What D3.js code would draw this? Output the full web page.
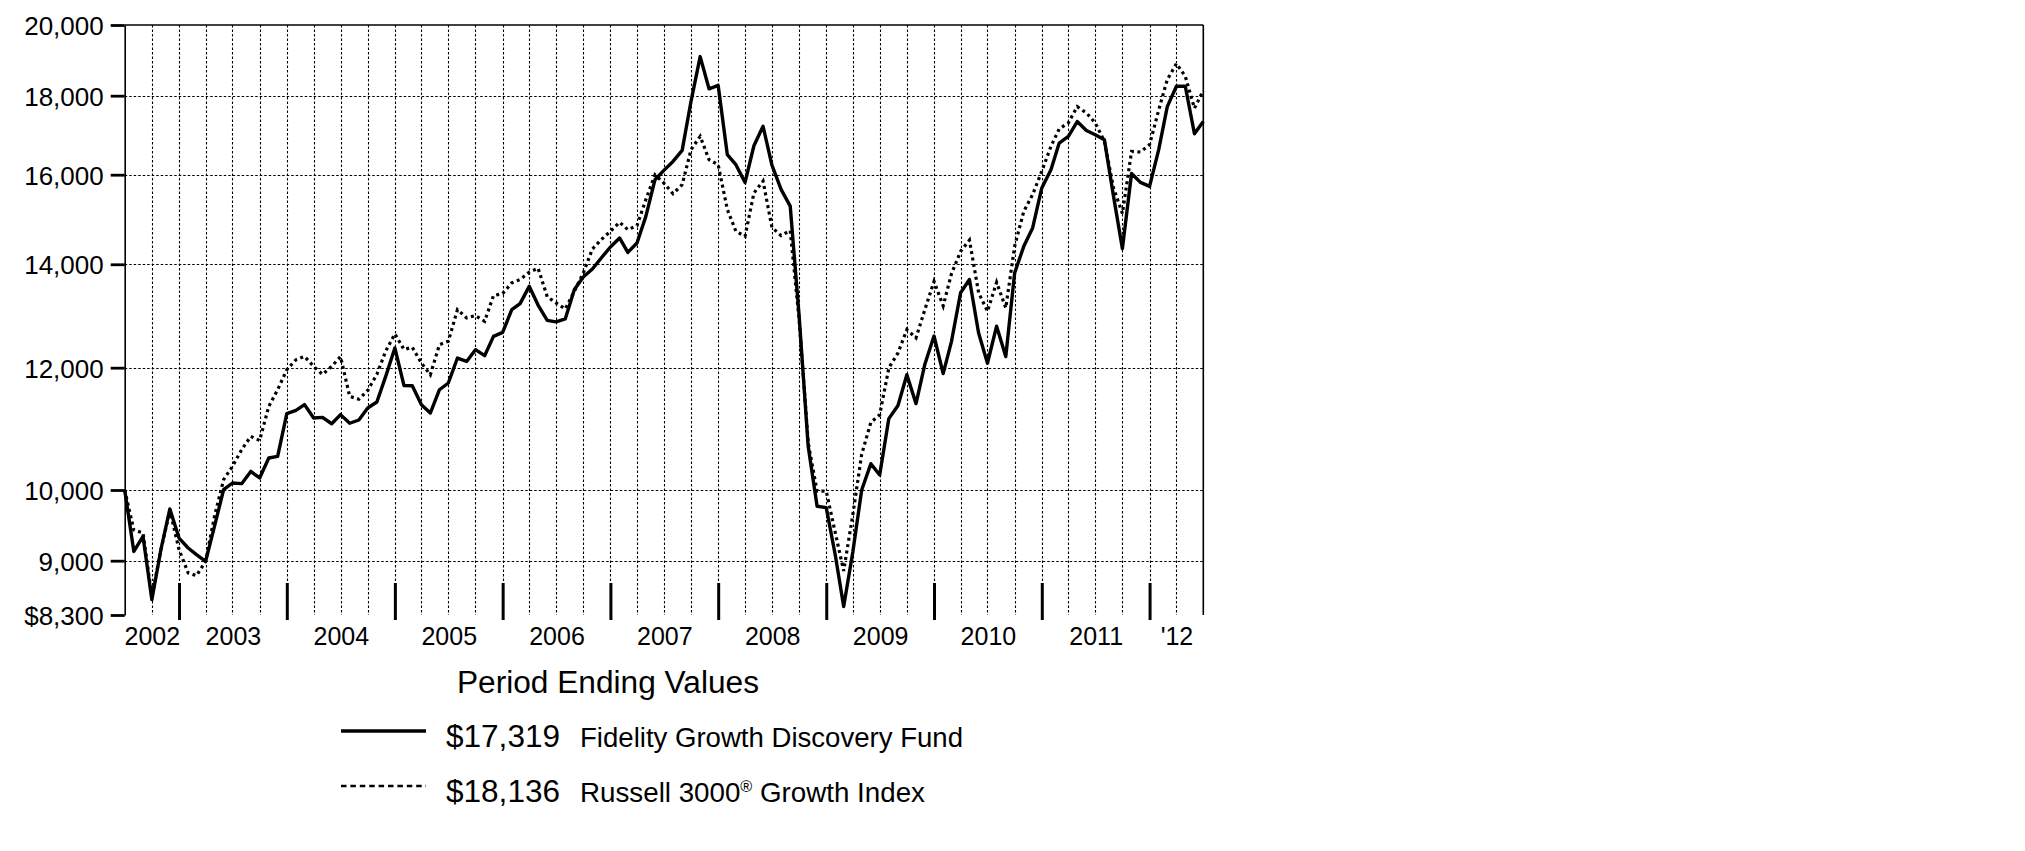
<!DOCTYPE html>
<html><head><meta charset="utf-8">
<script src="https://cdn.jsdelivr.net/npm/d3@7"></script>
<style>
html,body{margin:0;padding:0;background:#fff;}
svg{display:block;}
text{font-family:"Liberation Sans",Arial,Helvetica,sans-serif;fill:#000;}
</style>
</head><body>
<svg id="chart" width="2025" height="851"></svg>
<script>
// Month-end values, Jun 2002 .. Jun 2012 (hypothetical $10,000)
const firstMonthEnd = [2002, 6]; // year, month (1-based) of first value
const fundValues = [
10000, 9125, 9332, 8492, 9158, 9721, 9309, 9172, 9082, 8991, 9472, 10005,
10105, 10095, 10281, 10181, 10489, 10514, 11205, 11259, 11357, 11133, 11143, 11038,
11189, 11046, 11100, 11300, 11402, 11845, 12357, 11685, 11680, 11356, 11216, 11612,
11729, 12174, 12113, 12327, 12217, 12573, 12648, 13085, 13203, 13547, 13174, 12878,
12848, 12904, 13482, 13737, 13902, 14132, 14366, 14560, 14250, 14452, 15036, 15881,
16103, 16320, 16590, 17850, 19080, 18186, 18276, 16484, 16240, 15817, 16706, 17198,
16232, 15653, 15267, 12975, 10665, 9761, 9740, 9067, 8406, 9117, 10000, 10400,
10226, 11123, 11342, 11876, 11374, 12063, 12580, 11895, 12476, 13419, 13687, 12637,
12080, 12766, 12200, 13819, 14379, 14780, 15686, 16121, 16774, 16941, 17320, 17089,
16982, 16856, 15491, 14330, 16030, 15817, 15724, 16608, 17709, 18254, 18254, 17006,
17319
];
const indexValues = [
10000, 9420, 9380, 8530, 9150, 9700, 9149, 8837, 8801, 8990, 9614, 10155,
10358, 10619, 10832, 10767, 11328, 11612, 11963, 12143, 12203, 12023, 11880, 12023,
12200, 11497, 11450, 11600, 11880, 12300, 12620, 12330, 12370, 12083, 11873, 12419,
12481, 13085, 12924, 12968, 12859, 13362, 13402, 13617, 13685, 13835, 13920, 13340,
13216, 13098, 13448, 13819, 14323, 14525, 14706, 14904, 14742, 14830, 15417, 16000,
15803, 15553, 15763, 16608, 16941, 16362, 16240, 15190, 14706, 14597, 15569, 15850,
14791, 14610, 14721, 12902, 10724, 9982, 9982, 9375, 8864, 9641, 10545, 11060,
11186, 11996, 12267, 12701, 12545, 13085, 13647, 13159, 13800, 14271, 14513, 13419,
13052, 13629, 13118, 14379, 15149, 15533, 16081, 16691, 17130, 17284, 17709, 17543,
17284, 16815, 15686, 15100, 16566, 16550, 16733, 17622, 18436, 18882, 18527, 17666,
18136
];
const yTickValues = [8300, 9000, 10000, 12000, 14000, 16000, 18000, 20000];
const yGridValues = [9000, 10000, 12000, 14000, 16000, 18000];
const yearLabels = ["2002","2003","2004","2005","2006","2007","2008","2009","2010","2011","'12"];
const legendTitle = "Period Ending Values";
const legendValues = ["$17,319", "$18,136"];
const legendNames = ["Fidelity Growth Discovery Fund", "Russell 3000"];

// ---- layout
const L = 124.7, R = 1203.3, T = 25, B = 615;
const svg = d3.select("#chart");
svg.append("rect").attr("width",2025).attr("height",851).attr("fill","#fff");

// month-end i is represented by the first instant of the following month
const dates = fundValues.map((_, i) => new Date(Date.UTC(firstMonthEnd[0], firstMonthEnd[1] + i, 1)));
const x = d3.scaleUtc().domain([dates[0], dates[dates.length - 1]]).range([L, R]);
const y = d3.scaleLog().domain([8300, 20000]).range([B, T]);

// ---- grid (quarter ends only)
const quarterDates = dates.filter((d, i) => i > 0 && i < dates.length - 1 && i % 3 === 0);
const grid = svg.append("g").attr("stroke","#000").attr("stroke-width",1.1).attr("fill","none");
grid.selectAll("line.v").data(quarterDates).join("line").attr("class","v")
  .attr("x1", d => Math.round(x(d)) + 0.5).attr("x2", d => Math.round(x(d)) + 0.5)
  .attr("y1", T).attr("y2", B).attr("stroke-dasharray","2.5,2");
grid.selectAll("line.h").data(yGridValues).join("line").attr("class","h")
  .attr("x1", L).attr("x2", R)
  .attr("y1", d => Math.round(y(d)) + 0.5).attr("y2", d => Math.round(y(d)) + 0.5)
  .attr("stroke-dasharray","2.5,2");

// ---- borders (top, right)
svg.append("line").attr("x1",L).attr("x2",R).attr("y1",T).attr("y2",T).attr("stroke","#000").attr("stroke-width",1.6);
svg.append("line").attr("x1",R).attr("x2",R).attr("y1",T).attr("y2",B).attr("stroke","#000").attr("stroke-width",1.6);

// ---- y axis
const fmt = d3.format(",");
const yAxis = d3.axisLeft(y).tickValues(yTickValues).tickSize(14).tickSizeOuter(0).tickPadding(7)
  .tickFormat(d => d === 8300 ? "$" + fmt(d) : fmt(d));
const gy = svg.append("g").attr("transform", `translate(${L},0)`).call(yAxis);
gy.select(".domain").attr("stroke-width",1.6);
gy.selectAll(".tick line").attr("stroke-width",2.8);
gy.selectAll(".tick text").attr("font-size",26).attr("dy","0.37em")
  .style("font-family",'"Liberation Sans",Arial,sans-serif');

// ---- year boundary ticks
const yearStarts = dates.filter(d => d.getUTCMonth() === 0 && d > dates[0] && d < dates[dates.length - 1]);
const xTickAxis = d3.axisBottom(x).tickValues(yearStarts).tickSize(37).tickSizeOuter(0).tickFormat("");
const gxt = svg.append("g").attr("transform", `translate(0,583)`).call(xTickAxis);
gxt.select(".domain").remove();
gxt.selectAll(".tick line").attr("stroke-width",3);

// ---- year labels centred in each year's span
const bounds = [dates[0], ...yearStarts, dates[dates.length - 1]];
const centers = yearLabels.map((_, i) => new Date((bounds[i].getTime() + bounds[i + 1].getTime()) / 2));
const xLabAxis = d3.axisBottom(x).tickValues(centers).tickSize(0).tickPadding(0)
  .tickFormat((d, i) => yearLabels[i]);
const gxl = svg.append("g").attr("transform", `translate(0,645)`).call(xLabAxis);
gxl.select(".domain").remove();
gxl.selectAll(".tick text").attr("font-size",25).attr("dy",0).attr("y",0)
  .style("font-family",'"Liberation Sans",Arial,sans-serif');

// ---- series
const line = d3.line().x((d, i) => x(dates[i])).y(d => y(d)).curve(d3.curveLinear);
svg.append("path").datum(fundValues).attr("d", line).attr("fill","none")
  .attr("stroke","#000").attr("stroke-width",3.4).attr("stroke-linejoin","round");
svg.append("path").datum(indexValues).attr("d", line).attr("fill","none")
  .attr("stroke","#000").attr("stroke-width",3.2).attr("stroke-dasharray","3,3.5");

// ---- legend
const lg = svg.append("g");
lg.append("text").attr("x",457).attr("y",693).attr("font-size",31)
  .attr("textLength",302).attr("lengthAdjust","spacingAndGlyphs").text(legendTitle);
const rowY = [747, 802];
lg.append("line").attr("x1",341).attr("x2",426).attr("y1",731).attr("y2",731)
  .attr("stroke","#000").attr("stroke-width",3.4);
lg.append("line").attr("x1",341).attr("x2",426).attr("y1",786).attr("y2",786)
  .attr("stroke","#000").attr("stroke-width",2.6).attr("stroke-dasharray","5.5,3.9");
legendValues.forEach((v, i) => {
  lg.append("text").attr("x",446).attr("y",rowY[i]).attr("font-size",31)
    .attr("textLength",114).attr("lengthAdjust","spacingAndGlyphs").text(v);
});
lg.append("text").attr("x",580).attr("y",rowY[0]).attr("font-size",27.5)
  .attr("textLength",383).attr("lengthAdjust","spacingAndGlyphs").text(legendNames[0]);
const t2 = lg.append("text").attr("x",580).attr("y",rowY[1]).attr("font-size",27.5)
  .attr("textLength",345).attr("lengthAdjust","spacingAndGlyphs");
t2.append("tspan").text(legendNames[1]);
t2.append("tspan").attr("font-size",16).attr("dy",-10).text("®");
t2.append("tspan").attr("dy",10).text(" Growth Index");
</script>
</body></html>
